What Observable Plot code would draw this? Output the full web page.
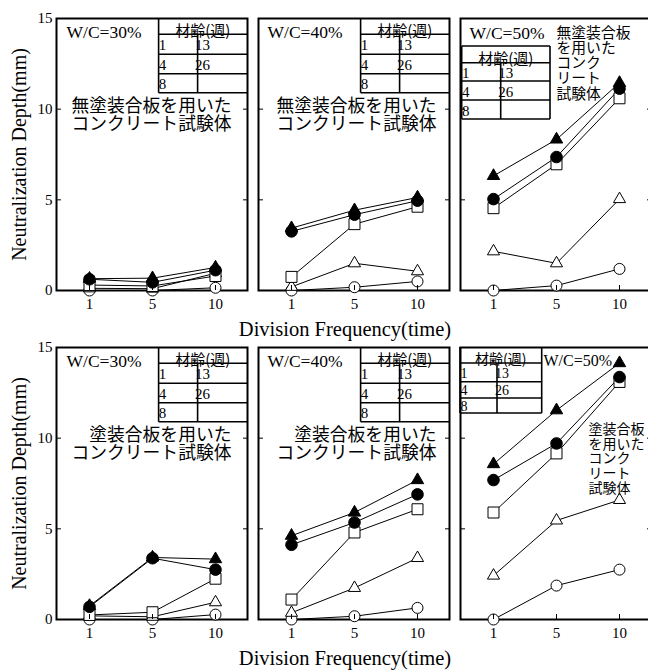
<!DOCTYPE html>
<html><head><meta charset="utf-8">
<script src="https://cdn.jsdelivr.net/npm/d3@7"></script>
<script src="https://cdn.jsdelivr.net/npm/@observablehq/plot@0.6"></script>
<style>
html,body{margin:0;padding:0;background:#fff;overflow:hidden;}
#chart{width:648px;height:671px;overflow:hidden;position:relative;}
</style></head><body><div id="chart"></div>
<script>
// ---- data ----
const freqs = [1, 5, 10];                       // division frequency (time)
const ages = [1, 4, 8, 13, 26];                 // 材齢 (weeks)
const wcLabels = ["W/C=30%", "W/C=40%", "W/C=50%"];
const coatings = ["無塗装合板", "塗装合板"];
const legendRows = [["1", "13"], ["4", "26"], ["8", ""]];
// neutralization depth (mm); rows = ages, cols = freqs
const unc30 = [[0, 0, 0.15], [0.12, 0.1, 0.95], [0.3, 0.25, 0.8], [0.62, 0.45, 1.12], [0.65, 0.68, 1.27]];
const unc40 = [[0, 0.18, 0.5], [0.2, 1.5, 1.06], [0.75, 3.66, 4.62], [3.26, 4.18, 4.95], [3.44, 4.43, 5.13]];
const unc50 = [[0, 0.27, 1.19], [2.16, 1.5, 5.04], [4.54, 6.96, 10.6], [5.04, 7.36, 11.13], [6.32, 8.33, 11.45]];
const coat30 = [[0, 0, 0.27], [0.2, 0.15, 0.95], [0.25, 0.4, 2.25], [0.7, 3.38, 2.75], [0.75, 3.42, 3.33]];
const coat40 = [[0, 0.18, 0.64], [0.37, 1.74, 3.39], [1.1, 4.8, 6.08], [4.12, 5.35, 6.9], [4.62, 5.9, 7.69]];
const coat50 = [[0, 1.87, 2.75], [2.42, 5.46, 6.59], [5.9, 9.16, 13.1], [7.69, 9.71, 13.37], [8.57, 11.54, 14.14]];

const panels = [
  {coat: coatings[0], wc: wcLabels[0], values: unc30},
  {coat: coatings[0], wc: wcLabels[1], values: unc40},
  {coat: coatings[0], wc: wcLabels[2], values: unc50},
  {coat: coatings[1], wc: wcLabels[0], values: coat30},
  {coat: coatings[1], wc: wcLabels[1], values: coat40},
  {coat: coatings[1], wc: wcLabels[2], values: coat50}
];
const rows = panels.flatMap(p => ages.flatMap((a, i) => freqs.map((f, j) => ({coat: p.coat, wc: p.wc, age: a, freq: f, depth: p.values[i][j]}))));

// ---- styles ----
const marker = {
  1: {symbol: "circle", fill: "white", r: 5.5},
  4: {symbol: "triangle", fill: "white", r: 4.5},
  8: {symbol: "square", fill: "white", r: 6.2},
  13: {symbol: "circle", fill: "black", r: 5.8},
  26: {symbol: "triangle", fill: "black", r: 4.6}
};
const SERIF = "Liberation Serif, Times New Roman, serif";
const CJK = "Noto Sans CJK JP, sans-serif";

function note(coat, wc, text, o) {
  return Plot.text([{coat, wc}], {fx: "wc", fy: "coat", text: () => text, ...o});
}

const marks = [
  Plot.frame({strokeWidth: 2}),
  ...ages.map(a => Plot.line(rows.filter(d => d.age === a), {x: "freq", y: "depth", fx: "wc", fy: "coat", stroke: "black", strokeWidth: 1})),
  ...ages.map(a => Plot.dot(rows.filter(d => d.age === a), {x: "freq", y: "depth", fx: "wc", fy: "coat", symbol: marker[a].symbol, fill: marker[a].fill, r: marker[a].r, stroke: "black", strokeWidth: 1})),
  // W/C labels
  note(coatings[0], wcLabels[0], "W/C=30%", {frameAnchor: "top-left", textAnchor: "start", lineAnchor: "bottom", dx: 10, dy: 19, fontSize: 17.5, fontFamily: SERIF}),
  note(coatings[0], wcLabels[1], "W/C=40%", {frameAnchor: "top-left", textAnchor: "start", lineAnchor: "bottom", dx: 9, dy: 19, fontSize: 17.5, fontFamily: SERIF}),
  note(coatings[0], wcLabels[2], "W/C=50%", {frameAnchor: "top-left", textAnchor: "start", lineAnchor: "bottom", dx: 9, dy: 20, fontSize: 17.5, fontFamily: SERIF}),
  note(coatings[1], wcLabels[0], "W/C=30%", {frameAnchor: "top-left", textAnchor: "start", lineAnchor: "bottom", dx: 10, dy: 19, fontSize: 17.5, fontFamily: SERIF}),
  note(coatings[1], wcLabels[1], "W/C=40%", {frameAnchor: "top-left", textAnchor: "start", lineAnchor: "bottom", dx: 9, dy: 19, fontSize: 17.5, fontFamily: SERIF}),
  note(coatings[1], wcLabels[2], "W/C=50%", {frameAnchor: "top-left", textAnchor: "start", lineAnchor: "bottom", dx: 83, dy: 18, fontSize: 16, fontFamily: SERIF}),
  // Japanese annotations
  note(coatings[0], wcLabels[0], "無塗装合板を用いた\nコンクリート試験体", {frameAnchor: "top-right", textAnchor: "end", lineAnchor: "middle", dx: -16, dy: 96.5, fontSize: 17.8, lineHeight: 1.02, fontFamily: CJK}),
  note(coatings[0], wcLabels[1], "無塗装合板を用いた\nコンクリート試験体", {frameAnchor: "top-right", textAnchor: "end", lineAnchor: "middle", dx: -13, dy: 96.5, fontSize: 17.8, lineHeight: 1.02, fontFamily: CJK}),
  note(coatings[0], wcLabels[2], "無塗装合板\nを用いた\nコンク\nリート\n試験体", {frameAnchor: "top-left", textAnchor: "start", lineAnchor: "middle", dx: 96, dy: 45, fontSize: 14.8, lineHeight: 1.02, fontFamily: CJK}),
  note(coatings[1], wcLabels[0], "塗装合板を用いた\nコンクリート試験体", {frameAnchor: "top-right", textAnchor: "end", lineAnchor: "middle", dx: -16, dy: 96.5, fontSize: 17.8, lineHeight: 1.02, fontFamily: CJK}),
  note(coatings[1], wcLabels[1], "塗装合板を用いた\nコンクリート試験体", {frameAnchor: "top-right", textAnchor: "end", lineAnchor: "middle", dx: -13, dy: 96.5, fontSize: 17.8, lineHeight: 1.02, fontFamily: CJK}),
  note(coatings[1], wcLabels[2], "塗装合板\nを用いた\nコンク\nリート\n試験体", {frameAnchor: "top-left", textAnchor: "start", lineAnchor: "middle", dx: 128, dy: 111, fontSize: 14, lineHeight: 1.05, fontFamily: CJK}),
  // axis titles
  Plot.text(coatings.map(c => ({coat: c, wc: wcLabels[0]})), {fx: "wc", fy: "coat", frameAnchor: "left", textAnchor: "middle", lineAnchor: "middle", text: () => "Neutralization Depth(mm)", rotate: -90, dx: -37, fontSize: 20, fontFamily: SERIF}),
  Plot.text(coatings.map(c => ({coat: c, wc: wcLabels[1]})), {fx: "wc", fy: "coat", frameAnchor: "bottom", textAnchor: "middle", lineAnchor: "middle", text: () => "Division Frequency(time)", dx: -9, dy: 39, fontSize: 20.5, fontFamily: SERIF}),
  // axes
  Plot.axisY({ticks: [0, 5, 10, 15], tickSize: 0, tickPadding: 4, label: null}),
  Plot.axisY({anchor: "left", ticks: [5, 10], tickSize: -5, facetAnchor: null, fill: "none", label: null}),
  Plot.axisY({anchor: "right", ticks: [5, 10], tickSize: -5, facetAnchor: null, fill: "none", label: null}),
  Plot.axisX({ticks: freqs, tickSize: 0, tickPadding: 8, facetAnchor: null, label: null}),
  Plot.axisX({ticks: freqs, tickSize: -5, facetAnchor: null, fill: "none", label: null})
];

const chart = Plot.plot({
  width: 652, height: 671,
  marginLeft: 55, marginRight: 0.5, marginTop: 17, marginBottom: 51,
  style: {fontFamily: SERIF, fontSize: "15px", background: "white", maxWidth: "none", overflow: "visible"},
  fx: {domain: wcLabels, paddingInner: 0.0543, paddingOuter: 0, axis: null},
  fy: {domain: coatings, paddingInner: 0.1727, paddingOuter: 0, axis: null},
  x: {type: "point", domain: freqs, padding: 0.5},
  y: {domain: [0, 15]},
  marks
});
document.getElementById("chart").append(chart);

// ---- legend tables (材齢 key) drawn inside each panel ----
const fxS = chart.scale("fx"), fyS = chart.scale("fy");
const svg = d3.select(chart);
const g = svg.append("g").attr("stroke", "black").attr("fill", "black");
function tableSpec(coat, wc) {
  const L = fxS.apply(wc), R = L + fxS.bandwidth, T = fyS.apply(coat);
  if (wc === wcLabels[2] && coat === coatings[0])
    return {x0: L + 1.7, xd: L + 40.7, x1: L + 90, ys: [T + 28, T + 44.7, T + 63, T + 82, T + 101], top: true, right: true, fs: 15};
  if (wc === wcLabels[2] && coat === coatings[1])
    return {x0: L, xd: L + 37, x1: L + 81.7, ys: [T, T + 16, T + 34.7, T + 51, T + 66], top: false, right: true, fs: 14};
  return {x0: R - 88.4, xd: R - 49.4, x1: R, ys: [T, T + 16.3, T + 36.3, T + 55.7, T + 74.7], top: false, right: false, fs: 15};
}
function line(x1, y1, x2, y2) {
  g.append("line").attr("x1", x1).attr("y1", y1).attr("x2", x2).attr("y2", y2).attr("stroke-width", 1.6);
}
for (const p of panels) {
  const s = tableSpec(p.coat, p.wc);
  const [y0, yh, yr1, yr2, yb] = s.ys;
  line(s.x0, y0, s.x0, yb);
  if (s.top) line(s.x0, y0, s.x1, y0);
  if (s.right) line(s.x1, y0, s.x1, yb);
  line(s.x0, yh, s.x1, yh);
  line(s.x0, yr1, s.x1, yr1);
  line(s.x0, yr2, s.x1, yr2);
  line(s.x0, yb, s.x1, yb);
  line(s.xd, yh, s.xd, yb);
  g.append("text").attr("stroke", "none").attr("x", (s.x0 + s.x1) / 2).attr("y", yh - 5)
    .attr("text-anchor", "middle").attr("dominant-baseline", "central")
    .style("font-family", CJK).style("font-size", s.fs + "px").text("材齢(週)");
  const bounds = [yh, yr1, yr2, yb];
  legendRows.forEach((r, i) => {
    const cy = (bounds[i] + bounds[i + 1]) / 2 + 1;
    g.append("text").attr("stroke", "none").attr("x", s.x0 + 4).attr("y", cy).attr("dominant-baseline", "central")
      .style("font-family", SERIF).style("font-size", s.fs + "px").text(r[0]);
    if (r[1]) g.append("text").attr("stroke", "none").attr("x", s.xd + 5).attr("y", cy).attr("dominant-baseline", "central")
      .style("font-family", SERIF).style("font-size", s.fs + "px").text(r[1]);
  });
}
</script></body></html>
